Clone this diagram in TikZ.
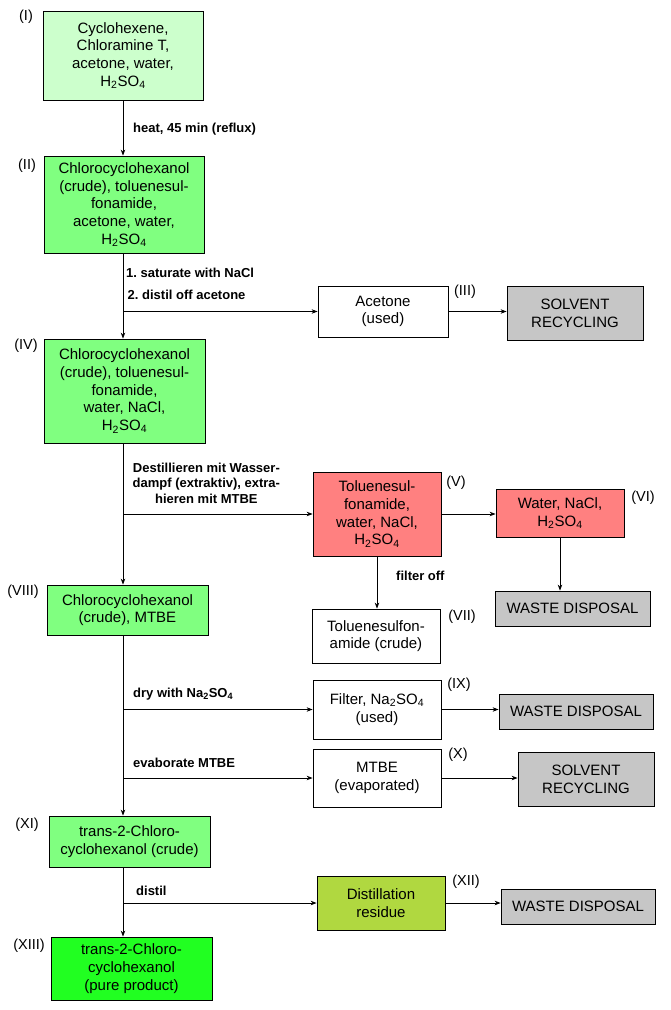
\documentclass[tikz,border=0pt]{standalone}
\usepackage{fontspec}
\setmainfont{Liberation Sans}
\usetikzlibrary{arrows.meta}
\colorlet{feed}{green!20!white}
\colorlet{crude}{green!50!white}
\colorlet{product}{green!87!white}
\colorlet{aqueous}{red!50!white}
\colorlet{disposal}{gray!45!white}
\definecolor{residue}{RGB}{176,216,64}
\tikzset{
  box/.style={draw, line width=0.8pt, align=center, inner sep=1pt,
    font=\fontsize{15}{17.7}\selectfont},
  dims/.style 2 args={minimum width=#1pt, minimum height=#2pt},
  stepnote/.style={anchor=west, align=center, inner sep=0pt,
    font=\bfseries\fontsize{13}{15.5}\selectfont},
  tag/.style={inner sep=0pt, font=\fontsize{14.5}{17}\selectfont},
  arr/.style={-{Stealth[length=6pt,width=4.5pt]}, line width=0.8pt}
}

\begin{document}
\begin{tikzpicture}[x=1pt, y=-1pt]
\useasboundingbox (0,0) rectangle (670,1010);
\coordinate (spine) at (123,0);
\node[box, fill=feed, dims={160}{89}] (I) at (123,55.5)
  {Cyclohexene,\\Chloramine T,\\acetone, water,\\H\textsubscript{2}SO\textsubscript{4}};
\node[box, fill=crude, dims={160}{97}] (II) at (124,204.5)
  {Chlorocyclohexanol\\(crude), toluenesul-\\fonamide,\\acetone, water,\\H\textsubscript{2}SO\textsubscript{4}};
\node[box, fill=crude, dims={161}{104}] (IV) at (124.5,391)
  {Chlorocyclohexanol\\(crude), toluenesul-\\fonamide,\\water, NaCl,\\H\textsubscript{2}SO\textsubscript{4}};
\node[box, fill=white, dims={130}{51}] (acetone) at (383,311.5) {Acetone\\(used)};
\node[box, fill=disposal, dims={136}{54}] (recycleA) at (575,313) {SOLVENT\\RECYCLING};
\node[box, fill=aqueous, dims={128}{84}] (V) at (377,514)
  {Toluenesul-\\fonamide,\\water, NaCl,\\H\textsubscript{2}SO\textsubscript{4}};
\node[box, fill=aqueous, dims={128}{48}] (VI) at (560,513)
  {Water, NaCl,\\H\textsubscript{2}SO\textsubscript{4}};
\node[box, fill=disposal, dims={155}{35}] (wasteA) at (572.5,608.5) {WASTE DISPOSAL};
\node[box, fill=white, dims={128}{54}] (VII) at (376,636) {Toluenesulfon-\\amide (crude)};
\node[box, fill=crude, dims={161}{50}] (VIII) at (127.5,610) {Chlorocyclohexanol\\(crude), MTBE};
\node[box, fill=white, dims={128}{59}] (IX) at (377,709.5)
  {Filter, Na\textsubscript{2}SO\textsubscript{4}\\(used)};
\node[box, fill=disposal, dims={154}{35}] (wasteB) at (576,711.5) {WASTE DISPOSAL};
\node[box, fill=white, dims={128}{58}] (X) at (377,778) {MTBE\\(evaporated)};
\node[box, fill=disposal, dims={136}{54}] (recycleB) at (586,779) {SOLVENT\\RECYCLING};
\node[box, fill=crude, dims={161}{51}] (XI) at (129.5,841.5)
  {trans-2-Chloro-\\cyclohexanol (crude)};
\node[box, fill=residue, dims={128}{54}] (XII) at (381,903) {Distillation\\residue};
\node[box, fill=disposal, dims={154}{35}] (wasteC) at (578,906.5) {WASTE DISPOSAL};
\node[box, fill=product, dims={161}{63}] (XIII) at (131.5,968.5)
  {trans-2-Chloro-\\cyclohexanol\\(pure product)};

\node[tag] (tagI) at (26,17) {(I)};
\node[tag] (tagII) at (27,166) {(II)};
\node[tag] (tagIII) at (465,292) {(III)};
\node[tag] (tagIV) at (26,346) {(IV)};
\node[tag] (tagV) at (456,483) {(V)};
\node[tag] (tagVI) at (643,498) {(VI)};
\node[tag] (tagVII) at (462,617) {(VII)};
\node[tag] (tagVIII) at (23,591.5) {(VIII)};
\node[tag] (tagIX) at (459,685) {(IX)};
\node[tag] (tagX) at (458,755) {(X)};
\node[tag] (tagXI) at (27,825) {(XI)};
\node[tag] (tagXII) at (466,882) {(XII)};
\node[tag] (tagXIII) at (29,946) {(XIII)};

\node[stepnote] (heat) at (133,129) {heat, 45 min (reflux)};
\node[stepnote] (salt) at (126,272.5) {1.\ saturate with NaCl};
\node[stepnote] (strip) at (127.5,295) {2.\ distil off acetone};
\node[stepnote] (steam) at (132.5,483)
  {Destillieren mit Wasser-\\dampf (extraktiv), extra-\\hieren mit MTBE};
\node[stepnote] (filter) at (396,576) {filter off};
\node[stepnote] (dry) at (133,694) {dry with Na\textsubscript{2}SO\textsubscript{4}};
\node[stepnote] (evap) at (133,763) {evaborate MTBE};
\node[stepnote] (distil) at (136,891) {distil};

\draw[arr] (spine |- I.south) -- (spine |- II.north);
\draw[arr] (spine |- II.south) -- (spine |- IV.north);
\draw[arr] (spine |- IV.south) -- (spine |- VIII.north);
\draw[arr] (spine |- VIII.south) -- (spine |- XI.north);
\draw[arr] (spine |- XI.south) -- (spine |- XIII.north);
\draw[arr] (spine |- acetone) -- (acetone);
\draw[arr] (spine |- V) -- (V);
\draw[arr] (spine |- IX) -- (IX);
\draw[arr] (spine |- X) -- (X);
\draw[arr] (spine |- XII) -- (XII);
\draw[arr] (acetone) -- (acetone -| recycleA.west);
\draw[arr] (V) -- (V -| VI.west);
\draw[arr] (VI) -- (VI |- wasteA.north);
\draw[arr] (V) -- (V |- VII.north);
\draw[arr] (IX) -- (IX -| wasteB.west);
\draw[arr] (X) -- (X -| recycleB.west);
\draw[arr] (XII) -- (XII -| wasteC.west);
\end{tikzpicture}
\end{document}
